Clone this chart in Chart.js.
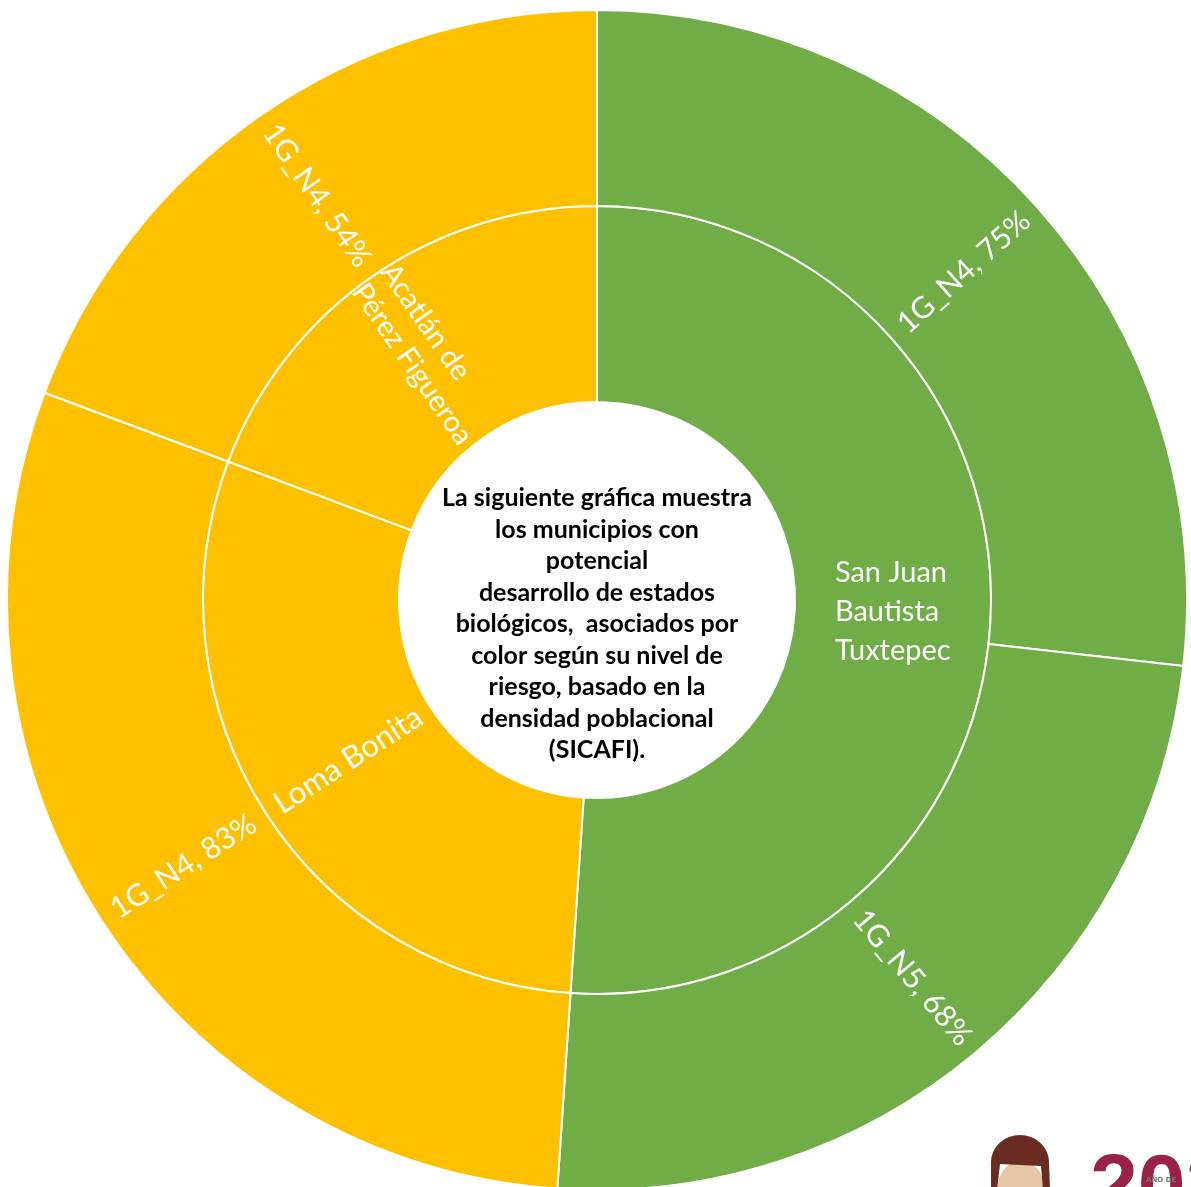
<!DOCTYPE html>
<html>
<head>
<meta charset="utf-8">
<script src="https://cdn.jsdelivr.net/npm/chart.js@4.4.1/dist/chart.umd.min.js"></script>
<style>
  html, body { margin: 0; padding: 0; background: #fff; width: 1191px; height: 1187px; overflow: hidden; }
  #sun { position: absolute; left: 0; top: 0; }
</style>
</head>
<body>
<canvas id="sun" width="1194" height="1200"></canvas>
<script>
// datos del sunburst (anillo interno = municipios, externo = nivel)
const municipios = ["San Juan Bautista Tuxtepec", "Loma Bonita", "Acatlán de Pérez Figueroa"];
const municipioLineas = [["San Juan", "Bautista", "Tuxtepec"], ["Loma Bonita"], ["Acatlán de", "Pérez Figueroa"]];
const municipioValores = [143, 83, 54];
const niveles = ["1G_N4", "1G_N5", "1G_N4", "1G_N4"];
const nivelValores = [75, 68, 83, 54];
const textoCentro = [
    "La siguiente gráfica muestra",
    "los municipios con",
    "potencial",
    "desarrollo de estados",
    "biológicos,  asociados por",
    "color según su nivel de",
    "riesgo, basado en la",
    "densidad poblacional",
    "(SICAFI)."
];

const VERDE = "#70ad47";
const AMARILLO = "#ffc000";

// etiquetas sobre cada arco
const etiquetasPlugin = {
    id: "etiquetas",
    afterDatasetsDraw(chart) {
        const ctx = chart.ctx;
        ctx.save();
        ctx.fillStyle = "#fff";
        ctx.textBaseline = "middle";

        // bloque centrado, líneas alineadas a la izquierda (como Excel)
        const dibujar = (arc, lineas, size, lh, rotar, anguloFijo, dr) => {
            const p = arc.getProps(["x", "y", "startAngle", "endAngle", "innerRadius", "outerRadius"], true);
            const ang = anguloFijo !== undefined ? anguloFijo : (p.startAngle + p.endAngle) / 2;
            const r = (p.innerRadius + p.outerRadius) / 2 + (dr || 0);
            ctx.save();
            ctx.translate(p.x + Math.cos(ang) * r, p.y + Math.sin(ang) * r);
            if (rotar) {
                let rot = ang;
                if (Math.cos(ang) < 0) rot += Math.PI;
                ctx.rotate(rot);
            }
            ctx.font = size + "px Lato";
            const w = Math.max(...lineas.map(t => ctx.measureText(t).width));
            ctx.textAlign = lineas.length > 1 ? "left" : "center";
            const x0 = lineas.length > 1 ? -w / 2 : 0;
            const off = (lineas.length - 1) * lh / 2;
            lineas.forEach((t, i) => ctx.fillText(t, x0, i * lh - off));
            ctx.restore();
        };

        const outer = chart.getDatasetMeta(0).data;
        outer.forEach((arc, i) => {
            dibujar(arc, [niveles[i] + ", " + nivelValores[i] + "%"], 30, 34, true);
        });

        const inner = chart.getDatasetMeta(1).data;
        inner.forEach((arc, i) => {
            if (i === 0) dibujar(arc, municipioLineas[i], 29, 39, false, 0.04);
            else if (i === 2) dibujar(arc, municipioLineas[i], 29, 35, true, undefined, 3);
            else dibujar(arc, municipioLineas[i], 31, 33, true);
        });

        // texto del centro
        const c = inner[0].getProps(["x", "y"], true);
        ctx.fillStyle = "#000";
        ctx.textAlign = "center";
        ctx.font = "bold 25px Lato";
        const lh = 31.5;
        const off = (textoCentro.length - 1) * lh / 2;
        textoCentro.forEach((t, i) => ctx.fillText(t, c.x, c.y + 24 + i * lh - off));

        // logo recortado abajo a la derecha
        ctx.fillStyle = "#e6c6a4";
        ctx.beginPath();
        ctx.ellipse(1021, 1192, 24, 32, 0, 0, Math.PI * 2);
        ctx.fill();
        ctx.fillStyle = "#6a2b22";
        ctx.beginPath();
        ctx.ellipse(1020, 1162, 29, 27, 0, Math.PI, Math.PI * 2);
        ctx.lineTo(1050, 1190);
        ctx.lineTo(1043, 1190);
        ctx.lineTo(1041, 1166);
        ctx.lineTo(1000, 1164);
        ctx.lineTo(997, 1190);
        ctx.lineTo(991, 1190);
        ctx.closePath();
        ctx.fill();
        ctx.fillStyle = "#9b2247";
        ctx.textAlign = "left";
        ctx.textBaseline = "alphabetic";
        ctx.font = "bold 86px 'Liberation Sans'";
        ctx.fillText("202", 1090, 1214);
        ctx.fillStyle = "#777";
        ctx.font = "bold 7px 'DejaVu Sans'";
        ctx.fillText("AÑO DE", 1146, 1182);
        ctx.restore();
    }
};

new Chart(document.getElementById("sun"), {
    type: "doughnut",
    data: {
        labels: niveles,
        datasets: [
            {
                data: nivelValores,
                backgroundColor: [VERDE, VERDE, AMARILLO, AMARILLO],
                borderColor: "#fff",
                borderWidth: 2,
            },
            {
                data: municipioValores,
                backgroundColor: [VERDE, AMARILLO, AMARILLO],
                borderColor: "#fff",
                borderWidth: 2,
            },
        ],
    },
    options: {
        responsive: false,
        devicePixelRatio: 1,
        animation: false,
        radius: 590,
        cutout: 200,
        layout: { padding: 0 },
        plugins: {
            legend: { display: false },
            tooltip: { enabled: false },
        },
    },
    plugins: [etiquetasPlugin],
});
</script>
</body>
</html>
